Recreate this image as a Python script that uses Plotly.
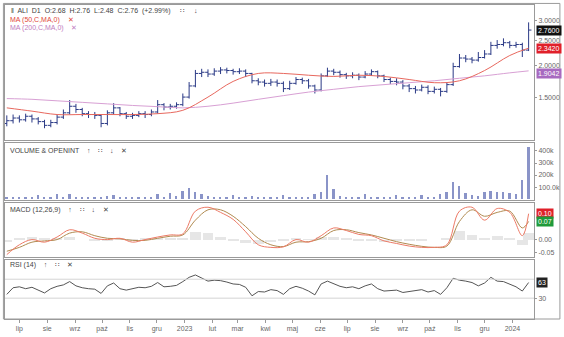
import plotly.graph_objects as go
from plotly.subplots import make_subplots
import pandas as pd
import math

# ---------------- data ----------------
week_dates = pd.date_range("2022-06-17", periods=84, freq="7D")

opens = [1.18, 1.21, 1.24, 1.22, 1.26, 1.23, 1.20, 1.16, 1.19, 1.25, 1.30, 1.38, 1.34, 1.29, 1.28, 1.27,
         1.18, 1.30, 1.36, 1.29, 1.26, 1.27, 1.29, 1.28, 1.31, 1.40, 1.37, 1.38, 1.40, 1.50, 1.66, 1.86,
         1.88, 1.85, 1.90, 1.92, 1.91, 1.89, 1.90, 1.86, 1.74, 1.72, 1.70, 1.72, 1.70, 1.62, 1.70, 1.76,
         1.74, 1.66, 1.60, 1.82, 1.90, 1.88, 1.84, 1.82, 1.83, 1.80, 1.85, 1.89, 1.82, 1.76, 1.73, 1.72,
         1.66, 1.62, 1.60, 1.64, 1.58, 1.61, 1.58, 1.68, 1.98, 2.14, 2.12, 2.10, 2.15, 2.22, 2.40, 2.42,
         2.46, 2.40, 2.42, 2.30]
highs = [1.27, 1.28, 1.27, 1.29, 1.28, 1.25, 1.22, 1.22, 1.28, 1.34, 1.46, 1.41, 1.36, 1.32, 1.31, 1.28,
         1.33, 1.42, 1.37, 1.31, 1.30, 1.32, 1.32, 1.34, 1.46, 1.42, 1.41, 1.43, 1.55, 1.72, 1.92, 1.94,
         1.93, 1.95, 1.97, 1.96, 1.94, 1.95, 1.93, 1.87, 1.78, 1.76, 1.77, 1.76, 1.73, 1.74, 1.80, 1.79,
         1.77, 1.68, 1.86, 1.96, 1.94, 1.91, 1.87, 1.88, 1.86, 1.90, 1.93, 1.91, 1.84, 1.79, 1.78, 1.75,
         1.69, 1.66, 1.68, 1.67, 1.65, 1.63, 1.72, 2.05, 2.22, 2.20, 2.16, 2.26, 2.30, 2.48, 2.52, 2.56,
         2.50, 2.48, 2.46, 2.96]
lows = [1.15, 1.18, 1.19, 1.20, 1.19, 1.17, 1.13, 1.14, 1.17, 1.23, 1.28, 1.30, 1.26, 1.24, 1.23, 1.14,
        1.16, 1.28, 1.26, 1.23, 1.23, 1.25, 1.24, 1.26, 1.29, 1.33, 1.34, 1.35, 1.38, 1.48, 1.64, 1.80,
        1.80, 1.82, 1.85, 1.86, 1.84, 1.85, 1.80, 1.70, 1.67, 1.65, 1.66, 1.65, 1.57, 1.60, 1.68, 1.69,
        1.62, 1.55, 1.58, 1.80, 1.83, 1.79, 1.77, 1.78, 1.75, 1.78, 1.82, 1.78, 1.72, 1.69, 1.67, 1.61,
        1.57, 1.55, 1.58, 1.54, 1.55, 1.51, 1.56, 1.66, 1.96, 2.06, 2.04, 2.07, 2.13, 2.20, 2.33, 2.38,
        2.34, 2.35, 2.16, 2.28]
closes = [1.21, 1.24, 1.22, 1.26, 1.23, 1.20, 1.16, 1.19, 1.25, 1.30, 1.38, 1.34, 1.29, 1.28, 1.27, 1.18,
          1.30, 1.36, 1.29, 1.26, 1.27, 1.29, 1.28, 1.31, 1.40, 1.37, 1.38, 1.40, 1.50, 1.66, 1.86, 1.88,
          1.85, 1.90, 1.92, 1.91, 1.89, 1.90, 1.86, 1.74, 1.72, 1.70, 1.72, 1.70, 1.62, 1.70, 1.76, 1.74,
          1.66, 1.60, 1.82, 1.90, 1.88, 1.84, 1.82, 1.83, 1.80, 1.85, 1.89, 1.82, 1.76, 1.73, 1.72, 1.66,
          1.62, 1.60, 1.64, 1.58, 1.61, 1.58, 1.68, 1.98, 2.14, 2.12, 2.10, 2.15, 2.22, 2.40, 2.42, 2.46,
          2.40, 2.42, 2.30, 2.76]

ma_idx = list(range(0, 84, 4)) + [83]
ma50 = [1.36, 1.32, 1.28, 1.28, 1.28, 1.28, 1.29, 1.33, 1.50, 1.73, 1.86, 1.86, 1.83, 1.81, 1.83, 1.81,
        1.76, 1.71, 1.74, 1.91, 2.19, 2.342]
ma200 = [1.48, 1.47, 1.45, 1.43, 1.41, 1.39, 1.375, 1.36, 1.38, 1.42, 1.47, 1.52, 1.57, 1.61, 1.65, 1.68,
         1.71, 1.74, 1.78, 1.82, 1.87, 1.9042]

volume_k = [12, 8, 15, 10, 9, 30, 14, 10, 45, 18, 40, 12, 9, 11, 8, 20, 25, 35, 12, 10, 9, 14, 11, 15,
            40, 18, 50, 22, 70, 90, 60, 40, 22, 18, 15, 12, 30, 14, 12, 25, 18, 12, 14, 10, 35, 12, 15, 10,
            18, 40, 60, 200, 80, 25, 15, 12, 18, 40, 20, 14, 12, 10, 30, 12, 15, 10, 35, 14, 18, 40, 60, 140,
            110, 50, 30, 22, 60, 70, 55, 60, 50, 40, 160, 430]

macd_idx = list(range(0, 84, 2)) + [83]
macd = [-0.058, -0.020, 0.000, -0.010, 0.010, 0.038, 0.025, 0.005, 0.000, 0.005, -0.010, 0.000, 0.010,
        0.018, 0.022, 0.110, 0.125, 0.105, 0.078, 0.030, -0.020, -0.030, -0.028, 0.000, -0.010, 0.015,
        0.045, 0.035, 0.020, 0.015, -0.005, -0.015, -0.025, -0.030, -0.030, -0.020, 0.110, 0.125, 0.075,
        0.120, 0.105, 0.015, 0.100]
signal = [-0.045, -0.030, -0.010, -0.005, 0.000, 0.025, 0.030, 0.015, 0.005, 0.003, -0.003, -0.003, 0.005,
          0.013, 0.018, 0.075, 0.115, 0.115, 0.090, 0.050, 0.005, -0.020, -0.027, -0.010, -0.008, 0.005,
          0.035, 0.038, 0.027, 0.018, 0.005, -0.008, -0.018, -0.026, -0.030, -0.025, 0.070, 0.115, 0.090,
          0.105, 0.110, 0.045, 0.070]
hist = [-0.008, 0.008, 0.012, 0.004, 0.008, 0.012, 0.000, -0.006, -0.004, 0.003, -0.004, 0.003, 0.005,
        0.005, 0.006, 0.030, 0.025, 0.010, -0.006, -0.012, -0.016, -0.010, -0.002, 0.008, 0.002, 0.010,
        0.012, 0.004, -0.004, -0.002, -0.008, -0.006, -0.006, -0.004, 0.000, 0.004, 0.035, 0.020, 0.008,
        0.015, 0.006, -0.020, 0.025]

rsi = [38, 52, 54, 50, 53, 47, 41, 50, 55, 58, 65, 56, 52, 50, 49, 40, 56, 62, 50, 47, 50, 53, 52, 55,
       63, 54, 55, 57, 65, 74, 79, 72, 66, 68, 67, 64, 60, 59, 53, 35, 44, 43, 48, 46, 38, 50, 55, 51,
       45, 37, 60, 66, 60, 55, 52, 54, 50, 56, 60, 50, 45, 46, 47, 42, 44, 45, 48, 43, 46, 38, 52, 72,
       68, 66, 63, 56, 62, 74, 66, 65, 60, 54, 45, 63]

month_ticks = pd.date_range("2022-07-01", "2024-01-01", freq="MS")
month_labels = ["lip", "sie", "wrz", "paź", "lis", "gru", "2023", "lut", "mar", "kwi", "maj", "cze",
                "lip", "sie", "wrz", "paź", "lis", "gru", "2024"]

price_ticks = [1.5, 2.0, 2.5, 3.0]
vol_ticks = [100, 200, 300, 400]
vol_labels = ["100.0k", "200k", "300k", "400k"]
macd_ticks = [-0.05, 0.0]
rsi_ticks = [30]
rsi_levels = [30, 70]

# ---------------- figure ----------------
FONT = "Liberation Sans"
GREY = "#666666"
LINE = "#9a9a9a"
BAR = "#2b3a86"

fig = make_subplots(rows=4, cols=1, shared_xaxes=True)

fig.add_trace(go.Ohlc(x=week_dates, open=opens, high=highs, low=lows, close=closes,
                      increasing_line_color=BAR, decreasing_line_color=BAR,
                      line_width=1, tickwidth=0.45, hoverinfo="skip"), row=1, col=1)
ma_dates = [week_dates[i] for i in ma_idx]
fig.add_trace(go.Scatter(x=ma_dates, y=ma200, mode="lines", line=dict(color="#d8a0d4", width=1, shape="spline")),
              row=1, col=1)
fig.add_trace(go.Scatter(x=ma_dates, y=ma50, mode="lines", line=dict(color="#e8685e", width=1, shape="spline")),
              row=1, col=1)

fig.add_trace(go.Bar(x=week_dates, y=volume_k, marker_color="#8a94c8", marker_line_width=0,
                     width=2.0 * 86400000), row=2, col=1)

macd_dates = [week_dates[i] for i in macd_idx]
fig.add_trace(go.Bar(x=macd_dates, y=hist, marker_color="#e6e6e6", marker_line_width=0,
                     width=12 * 86400000), row=3, col=1)
fig.add_trace(go.Scatter(x=macd_dates, y=signal, mode="lines",
                         line=dict(color="#b08a50", width=1, shape="spline")), row=3, col=1)
fig.add_trace(go.Scatter(x=macd_dates, y=macd, mode="lines",
                         line=dict(color="#ec7a66", width=1, shape="spline")), row=3, col=1)

fig.add_trace(go.Scatter(x=week_dates, y=rsi, mode="lines", line=dict(color="#555555", width=1)),
              row=4, col=1)

# panel domains (pixel rows 4..320)
doms = {1: [0.570, 1.0], 2: [0.380, 0.560], 3: [0.196, 0.370], 4: [0.0, 0.187]}
xr = ["2022-06-15", "2024-01-25"]
for r in range(1, 5):
    xa = "xaxis" if r == 1 else f"xaxis{r}"
    ya = "yaxis" if r == 1 else f"yaxis{r}"
    fig.layout[xa].update(range=xr, showline=True, mirror=True, linecolor=LINE, linewidth=1,
                          showgrid=False, zeroline=False, rangeslider=dict(visible=False),
                          tickvals=list(month_ticks), ticktext=month_labels,
                          showticklabels=(r == 4), ticks="outside" if r == 4 else "",
                          ticklen=3, tickcolor=LINE, tickfont=dict(size=7, color=GREY, family=FONT))
    fig.layout[ya].update(domain=doms[r], side="right", showline=True, mirror=True, linecolor=LINE,
                          linewidth=1, showgrid=False, zeroline=False, ticks="outside", ticklen=2,
                          tickcolor=LINE, tickfont=dict(size=7, color=GREY, family=FONT))

fig.update_yaxes(type="log", range=[0.0065, 0.5399], tickvals=price_ticks,
                 ticktext=[f"{v:.4f}" for v in price_ticks], row=1, col=1)
fig.update_yaxes(range=[-5, 465], tickvals=vol_ticks, ticktext=vol_labels, row=2, col=1)
fig.update_yaxes(range=[-0.069, 0.142], tickvals=macd_ticks, ticktext=[f"{v:.2f}" for v in macd_ticks],
                 row=3, col=1)
fig.update_yaxes(range=[-14, 110], tickvals=rsi_ticks, ticktext=[str(v) for v in rsi_ticks], row=4, col=1)

for lvl in rsi_levels:
    fig.add_hline(y=lvl, line=dict(color="#d4d4d4", width=1), row=4, col=1)

ann = []
def label(text, y, color="#444444", x=0.015):
    ann.append(dict(text=text, x=x, y=y, xref="paper", yref="paper", xanchor="left", yanchor="middle",
                    showarrow=False, font=dict(size=7, color=color, family=FONT)))

label("‖  ALI  D1  O:2.68  H:2.76  L:2.48  C:2.76  (+2.99%)     ∷     ↓", 0.981, x=0.008)
label("MA (50,C,MA,0)    ✕", 0.953, color="#e0453c", x=0.006)
label("MA (200,C,MA,0)    ✕", 0.927, color="#c07cc0", x=0.006)
label("VOLUME & OPENINT    ↑    ∷    ↓    ✕", 0.538, x=0.006)
label("MACD (12,26,9)    ↑    ∷    ↓    ✕", 0.348, x=0.006)
label("RSI (14)    ↑    ∷    ✕", 0.171, x=0.006)

def box(text, y, yref, bg, yshift=0):
    ann.append(dict(text=text, x=1.0, y=y, xref="paper", yref=yref, xanchor="left", yanchor="middle",
                    xshift=2, yshift=yshift, showarrow=False, bgcolor=bg, borderpad=1,
                    font=dict(size=7, color="white", family=FONT)))

box("2.7600", math.log10(closes[-1]), "y", "#111111")
box("2.3420", math.log10(ma50[-1]), "y", "#e0202a")
box("1.9042", math.log10(ma200[-1]), "y", "#a86ac0", yshift=-3)
box("0.10", macd[-1], "y3", "#e0202a")
box("0.07", signal[-1], "y3", "#1f9a3a")
box("63", rsi[-1], "y4", "#222222")

fig.update_layout(annotations=ann)

# outer frame
fig.add_shape(type="rect", xref="paper", yref="paper", x0=-0.003, x1=1.049, y0=0.0, y1=1.005,
              line=dict(color="#9a9a9a", width=1), fillcolor="rgba(0,0,0,0)", layer="above")

fig.update_layout(width=564, height=337, margin=dict(l=4, r=29, t=4, b=17),
                  paper_bgcolor="white", plot_bgcolor="white", showlegend=False,
                  bargap=0, font=dict(family=FONT, size=7, color=GREY))

fig.write_html("out.html")
